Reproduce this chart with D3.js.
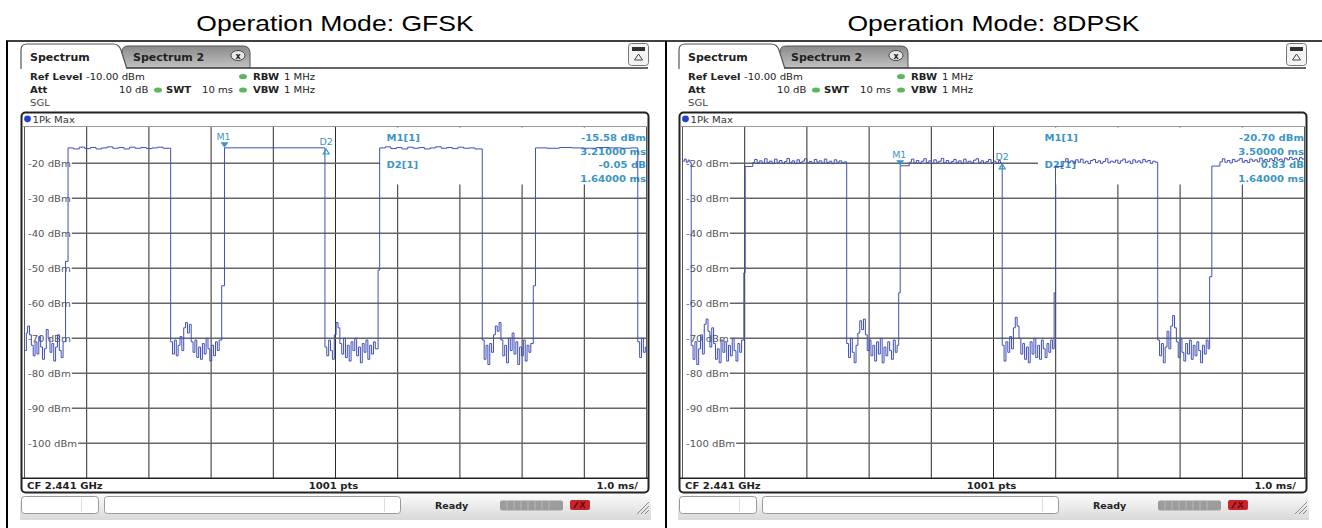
<!DOCTYPE html>
<html>
<head>
<meta charset="utf-8">
<script src="https://cdn.jsdelivr.net/npm/d3@7"></script>
<style>
  body { margin: 0; background: #fff; }
</style>
</head>
<body>
<div id="chart"></div>
<script>
// Titles of the two captures
var titles = ["Operation Mode: GFSK", "Operation Mode: 8DPSK"];

// Level grid labels (dBm) and time axis (ms)
var levelTicks = [-20, -30, -40, -50, -60, -70, -80, -90, -100];
var timeTicks = [1, 2, 3, 4, 5, 6, 7, 8, 9];

// GFSK trace: [time ms, level dBm]
var gfskTrace = [
  [0.00,-73.5],[0.03,-68.5],[0.05,-66.5],[0.08,-69],[0.11,-72],[0.14,-75],[0.17,-71],[0.20,-74.5],[0.23,-69.5],[0.26,-72.5],[0.29,-76],[0.32,-73],[0.35,-67.5],[0.38,-70],[0.41,-74],[0.44,-71.5],[0.47,-76.5],[0.50,-72.5],[0.53,-69],[0.56,-73.5],[0.59,-75.5],[0.62,-71],[0.66,-48],
  [0.70,-15.6],[0.79,-15.9],[0.88,-15.4],[0.97,-15.8],[1.06,-15.5],[1.15,-15.9],[1.24,-15.6],[1.33,-15.3],[1.42,-15.7],[1.51,-15.5],[1.60,-15.9],[1.69,-15.4],[1.78,-15.7],[1.87,-15.5],[1.96,-15.8],[2.05,-15.6],[2.14,-15.4],[2.23,-15.7],
  [2.35,-71],[2.38,-74.5],[2.41,-70.5],[2.44,-75],[2.47,-72],[2.50,-69.5],[2.53,-73.5],[2.56,-67],[2.59,-65.5],[2.62,-68.5],[2.65,-66],[2.68,-71],[2.71,-74],[2.74,-70.5],[2.77,-75.5],[2.80,-72.5],[2.83,-76],[2.86,-71.5],[2.89,-74.5],[2.92,-70],[2.95,-73],[2.98,-76.5],[3.01,-72],[3.04,-75],[3.07,-71],[3.10,-73.5],[3.13,-70.5],[3.17,-55],
  [3.215,-15.58],
  [4.83,-72.5],[4.86,-75],[4.89,-70.5],[4.92,-73.5],[4.95,-76],[4.98,-69],[5.01,-65.5],[5.04,-67],[5.07,-71.5],[5.10,-74.5],[5.13,-70],[5.16,-75.5],[5.19,-72],[5.22,-76.5],[5.25,-71],[5.28,-73.5],[5.31,-70],[5.34,-75],[5.37,-72.5],[5.40,-77],[5.43,-71.5],[5.46,-74],[5.49,-70.5],[5.52,-76],[5.55,-72],[5.58,-74.5],[5.61,-71],[5.64,-73],[5.685,-50.5],
  [5.71,-15.6],[5.80,-15.3],[5.89,-15.8],[5.98,-15.5],[6.07,-15.9],[6.16,-15.4],[6.25,-15.7],[6.34,-15.5],[6.43,-15.9],[6.52,-15.6],[6.61,-15.3],[6.70,-15.7],[6.79,-15.5],[6.88,-15.8],[6.97,-15.4],[7.06,-15.7],[7.15,-15.6],[7.24,-15.9],
  [7.36,-70.5],[7.39,-76],[7.42,-72],[7.45,-77.5],[7.48,-71.5],[7.51,-74],[7.54,-69],[7.57,-66.5],[7.60,-68],[7.63,-65.5],[7.66,-70.5],[7.69,-75],[7.72,-72],[7.75,-77],[7.78,-70],[7.81,-73.5],[7.84,-68.5],[7.87,-74.5],[7.90,-71],[7.93,-77.5],[7.96,-72.5],[7.99,-75],[8.02,-70.5],[8.05,-76.5],[8.08,-72],[8.11,-74],[8.14,-71.5],[8.18,-55],
  [8.215,-15.6],[8.40,-15.7],[8.60,-15.5],[8.80,-15.6],[9.00,-15.7],[9.20,-15.5],[9.40,-15.6],[9.60,-15.7],[9.75,-15.6],
  [9.86,-71],[9.89,-75.5],[9.92,-70],[9.95,-74],[9.98,-72.5],[10.0,-72.5]
];

// 8DPSK trace: [time ms, level dBm]
var dpskTrace = [
  [0.00,-19.4],[0.03,-18.8],[0.06,-19.7],[0.09,-19.1],[0.12,-19.8],
  [0.14,-72],[0.17,-76],[0.20,-71],[0.23,-77.5],[0.26,-73],[0.29,-69],[0.32,-74.5],[0.35,-66],[0.38,-64.5],[0.41,-68],[0.44,-72.5],[0.47,-67],[0.50,-71.5],[0.53,-76],[0.56,-73],[0.59,-77],[0.62,-70.5],[0.65,-74],[0.68,-71],[0.71,-76.5],[0.74,-72],[0.77,-75],[0.80,-70],[0.83,-73.5],[0.86,-76.5],[0.89,-71.5],[0.92,-74],[0.95,-70.5],[0.986,-51.3],
  [1.007,-20.9],[1.13,-19.8],[1.16,-18.9],[1.20,-19.9],[1.24,-19.3],[1.28,-20],[1.32,-18.7],[1.36,-19.8],[1.40,-19.4],[1.44,-20.1],[1.48,-18.8],[1.52,-19.7],[1.56,-19.2],[1.60,-20],[1.64,-19.5],[1.68,-18.6],[1.72,-19.9],[1.76,-19.3],[1.80,-20.1],[1.84,-19],[1.88,-19.8],[1.92,-19.4],[1.96,-18.7],[2.00,-19.9],[2.04,-19.5],[2.08,-20],[2.12,-18.9],[2.16,-19.7],[2.20,-19.3],[2.24,-20],[2.28,-18.8],[2.32,-19.8],[2.36,-19.4],[2.40,-20.1],[2.44,-19],[2.48,-19.7],[2.52,-19.3],[2.56,-19.9],[2.60,-19.6],
  [2.64,-71.5],[2.67,-75.5],[2.70,-70],[2.73,-74],[2.76,-77],[2.79,-72],[2.82,-68.5],[2.85,-65],[2.88,-67.5],[2.91,-64.5],[2.94,-69],[2.97,-73.5],[3.00,-70.5],[3.03,-75],[3.06,-72],[3.09,-76.5],[3.12,-71],[3.15,-74.5],[3.18,-70],[3.21,-77],[3.24,-72.5],[3.27,-75],[3.30,-71],[3.33,-73.5],[3.36,-76],[3.39,-70.5],[3.42,-74],[3.45,-72],[3.476,-57],
  [3.50,-20.7],[3.646,-19.7],[3.68,-18.8],[3.72,-19.9],[3.76,-19.2],[3.80,-20],[3.84,-19.4],[3.88,-18.7],[3.92,-19.8],[3.96,-19.3],[4.00,-20.1],[4.04,-19],[4.08,-19.7],[4.12,-19.4],[4.16,-18.6],[4.20,-19.9],[4.24,-19.2],[4.28,-20],[4.32,-19.5],[4.36,-18.9],[4.40,-19.8],[4.44,-19.3],[4.48,-20.1],[4.52,-18.8],[4.56,-19.7],[4.60,-19.4],[4.64,-19.9],[4.68,-19.1],[4.72,-18.7],[4.76,-19.8],[4.80,-19.3],[4.84,-20],[4.88,-19.5],[4.92,-18.9],[4.96,-19.8],[5.00,-19.4],[5.04,-20],[5.08,-19.2],[5.11,-19.9],
  [5.14,-72],[5.17,-76.5],[5.20,-71],[5.23,-74],[5.26,-69.5],[5.29,-73],[5.32,-67],[5.35,-64],[5.38,-66.5],[5.41,-70],[5.44,-74.5],[5.47,-71.5],[5.50,-76],[5.53,-72.5],[5.56,-77],[5.59,-71],[5.62,-74.5],[5.65,-70],[5.68,-75.5],[5.71,-72],[5.74,-76],[5.77,-70.5],[5.80,-73],[5.83,-75.5],[5.86,-71.5],[5.89,-74],[5.92,-70.5],[5.95,-73],[5.975,-57],
  [5.997,-20.9],[6.12,-19.6],[6.16,-18.7],[6.20,-19.8],[6.24,-19.3],[6.28,-20],[6.32,-19],[6.36,-19.7],[6.40,-18.8],[6.44,-19.9],[6.48,-19.4],[6.52,-20.1],[6.56,-19.2],[6.60,-18.9],[6.64,-19.8],[6.68,-19.3],[6.72,-20],[6.76,-19.5],[6.80,-18.7],[6.84,-19.9],[6.88,-19.4],[6.92,-19.7],[6.96,-19.1],[7.00,-20],[7.04,-19.3],[7.08,-18.8],[7.12,-19.8],[7.16,-19.4],[7.20,-20.1],[7.24,-19],[7.28,-19.7],[7.32,-19.3],[7.36,-19.9],[7.40,-18.9],[7.44,-19.6],[7.48,-19.2],[7.52,-20],[7.56,-19.4],[7.60,-19.7],
  [7.64,-70.5],[7.67,-75],[7.70,-71.5],[7.73,-77],[7.76,-72.5],[7.79,-68],[7.82,-73],[7.85,-66.5],[7.88,-63.5],[7.91,-67],[7.94,-71],[7.97,-75.5],[8.00,-70],[8.03,-74],[8.06,-76.5],[8.09,-71.5],[8.12,-74.5],[8.15,-70.5],[8.18,-76],[8.21,-72],[8.24,-75],[8.27,-71],[8.30,-73.5],[8.33,-77],[8.36,-72],[8.39,-74.5],[8.42,-70.5],[8.45,-73],[8.475,-52.4],
  [8.51,-20.8],[8.64,-19.6],[8.68,-18.7],[8.72,-19.7],[8.76,-19.2],[8.80,-19.9],[8.84,-18.9],[8.88,-19.5],[8.92,-19.1],[8.96,-18.6],[9.00,-19.7],[9.04,-19.2],[9.08,-19.8],[9.12,-18.8],[9.16,-19.4],[9.20,-19],[9.24,-19.6],[9.28,-18.5],[9.32,-19.3],[9.36,-18.9],[9.40,-19.5],[9.44,-18.7],[9.48,-19.2],[9.52,-18.4],[9.56,-19.1],[9.60,-18.8],[9.64,-19.4],[9.68,-18.5],[9.72,-19],[9.76,-18.3],[9.80,-18.9],[9.84,-18.6],[9.88,-19.1],[9.92,-18.4],[9.96,-18.8],[10.0,-18.6]
];

// Markers: M1 position, D2 position (ms, dBm)
var gfskMarkers = [{ name: "M1", t: 3.215, level: -15.58, delta: false }, { name: "D2", t: 4.85, level: -15.63, delta: true }];
var dpskMarkers = [{ name: "M1", t: 3.50, level: -20.70, delta: false }, { name: "D2", t: 5.14, level: -19.87, delta: true }];

// Marker readouts
var gfskReadout = ["-15.58 dBm", "3.21000 ms", "-0.05 dB", "1.64000 ms"];
var dpskReadout = ["-20.70 dBm", "3.50000 ms", "0.83 dB", "1.64000 ms"];

var width = 1322, height = 528;
var svg = d3.select("#chart").append("svg")
  .attr("width", width)
  .attr("height", height)
  .style("font-family", "'DejaVu Sans', Verdana, sans-serif");

var defs = svg.append("defs");
var tabGrad = defs.append("linearGradient").attr("id", "tabGrad").attr("x1", 0).attr("y1", 0).attr("x2", 0).attr("y2", 1);
tabGrad.append("stop").attr("offset", "0%").attr("stop-color", "#8a8a8a");
tabGrad.append("stop").attr("offset", "100%").attr("stop-color", "#c2c2c2");
var barGrad = defs.append("linearGradient").attr("id", "barGrad").attr("x1", 0).attr("y1", 0).attr("x2", 0).attr("y2", 1);
barGrad.append("stop").attr("offset", "0%").attr("stop-color", "#fbfbfb");
barGrad.append("stop").attr("offset", "100%").attr("stop-color", "#d9d9d9");

// small text helper, the capture is a bit stretched sideways
function txt(g, x, y, s, o) {
  o = o || {};
  return g.append("text")
    .attr("transform", "translate(" + x + "," + y + ") scale(" + (o.sx || 1.12) + ",1)")
    .attr("text-anchor", o.anchor || "start")
    .attr("font-size", o.size || 9)
    .attr("font-weight", o.bold ? "bold" : "normal")
    .attr("fill", o.color || "#222")
    .text(s);
}

// table lines round the two captures
svg.append("line").attr("x1", 6).attr("y1", 41).attr("x2", width).attr("y2", 41).attr("stroke", "#000").attr("stroke-width", 1.5);
svg.append("line").attr("x1", 7).attr("y1", 41).attr("x2", 7).attr("y2", height).attr("stroke", "#000").attr("stroke-width", 2);
svg.append("line").attr("x1", 666).attr("y1", 41).attr("x2", 666).attr("y2", height).attr("stroke", "#000").attr("stroke-width", 2);

// titles
[335, 993.5].forEach(function(cx, i) {
  svg.append("text")
    .attr("transform", "translate(" + cx + ",31) scale(1.18,1)")
    .attr("text-anchor", "middle")
    .attr("font-family", "'Liberation Sans', Arial, sans-serif")
    .attr("font-size", 22.5)
    .attr("fill", "#000")
    .text(titles[i]);
});

function drawPanel(ox, trace, markers, readout, id) {
  var g = svg.append("g").attr("transform", "translate(" + ox + ",0)");

  var x = d3.scaleLinear().domain([0, 10]).range([24.5, 646.5]);
  var y = d3.scaleLinear().domain([-110, -10]).range([478.3, 128.3]);

  // tabs
  g.append("path")
    .attr("d", "M122,68 L122,52 Q122,46 128,46 L243,46 Q250,46 250,53 L250,68")
    .attr("fill", "url(#tabGrad)").attr("stroke", "#555").attr("stroke-width", 1);
  g.append("line").attr("x1", 118).attr("y1", 68).attr("x2", 648).attr("y2", 68).attr("stroke", "#333").attr("stroke-width", 1.5);
  g.append("path")
    .attr("d", "M21,69 L21,50 Q21,44 27,44 L113,44 Q119,44 121,50 L127,69")
    .attr("fill", "#fff").attr("stroke", "#555").attr("stroke-width", 1.2);
  txt(g, 30, 61, "Spectrum", { size: 11, bold: true, sx: 1.0, color: "#222" });
  txt(g, 133, 61, "Spectrum 2", { size: 11, bold: true, sx: 1.0, color: "#222" });
  g.append("ellipse").attr("cx", 238).attr("cy", 55.5).attr("rx", 7).attr("ry", 5)
    .attr("fill", "#e8e8e8").attr("stroke", "#444").attr("stroke-width", 1);
  txt(g, 238, 58.5, "x", { size: 8, bold: true, sx: 1.0, anchor: "middle", color: "#222" });

  // top right button
  g.append("rect").attr("x", 628.5).attr("y", 43.5).attr("width", 20).attr("height", 22).attr("rx", 3)
    .attr("fill", "#f4f4f4").attr("stroke", "#777");
  g.append("rect").attr("x", 632).attr("y", 47).attr("width", 13).attr("height", 4).attr("fill", "#333");
  g.append("path").attr("d", "M638.5,54 L642.5,60 L634.5,60 Z").attr("fill", "none").attr("stroke", "#444");

  // header settings
  txt(g, 30, 79.5, "Ref Level", { bold: true });
  txt(g, 86, 79.5, "-10.00 dBm");
  txt(g, 30, 93, "Att", { bold: true });
  txt(g, 119, 93, "10 dB");
  txt(g, 166, 93, "SWT", { bold: true });
  txt(g, 202, 93, "10 ms");
  txt(g, 253, 79.5, "RBW", { bold: true });
  txt(g, 284, 79.5, "1 MHz");
  txt(g, 253, 93, "VBW", { bold: true });
  txt(g, 284, 93, "1 MHz");
  txt(g, 30, 106, "SGL", { color: "#444" });
  [[243, 76.5], [158, 90], [243, 90]].forEach(function(p) {
    g.append("ellipse").attr("cx", p[0]).attr("cy", p[1]).attr("rx", 4).attr("ry", 2.6).attr("fill", "#5cb85c");
  });

  // diagram frame
  g.append("rect").attr("x", 21.5).attr("y", 112.5).attr("width", 627).attr("height", 380).attr("rx", 4)
    .attr("fill", "#fff").attr("stroke", "#222").attr("stroke-width", 2);
  g.append("line").attr("x1", 22).attr("y1", 126.5).attr("x2", 648).attr("y2", 126.5).attr("stroke", "#999");
  g.append("circle").attr("cx", 27.5).attr("cy", 118.8).attr("r", 3.4).attr("fill", "#2244cc");
  txt(g, 32.5, 122.5, "1Pk Max", { color: "#333" });

  // grid
  g.selectAll(".vg").data(timeTicks).enter().append("line")
    .attr("x1", function(d) { return x(d); }).attr("x2", function(d) { return x(d); })
    .attr("y1", 127).attr("y2", 478.3)
    .attr("stroke", "#2a2a2a").attr("stroke-width", 1);
  g.selectAll(".hg").data(levelTicks).enter().append("line")
    .attr("x1", x(0)).attr("x2", x(10))
    .attr("y1", function(d) { return y(d); }).attr("y2", function(d) { return y(d); })
    .attr("stroke", "#666").attr("stroke-width", 1.5);
  g.append("line").attr("x1", x(0)).attr("x2", x(0)).attr("y1", 127).attr("y2", 478.3).attr("stroke", "#555");
  g.append("line").attr("x1", x(10)).attr("x2", x(10)).attr("y1", 127).attr("y2", 478.3).attr("stroke", "#555");
  g.append("line").attr("x1", 22).attr("x2", 648).attr("y1", 478.3).attr("y2", 478.3).attr("stroke", "#222").attr("stroke-width", 1.5);

  // level labels with white backing
  levelTicks.forEach(function(d) {
    var bg = g.append("rect").attr("fill", "#fff");
    var t = txt(g, 28, y(d) + 3.3, d + " dBm", { color: "#555" });
    var w = t.node().getComputedTextLength() * 1.12;
    bg.attr("x", 25).attr("y", y(d) - 5).attr("width", w + 4).attr("height", 10);
  });

  // readout area covers the grid
  g.append("rect").attr("x", 380).attr("y", 127.5).attr("width", 266).attr("height", 57).attr("fill", "#fff");
  var mc = "#3b95c4";
  txt(g, 386.5, 141, "M1[1]", { bold: true, color: mc });
  txt(g, 386.5, 168, "D2[1]", { bold: true, color: mc });
  [141, 154.5, 168, 182].forEach(function(yy, i) {
    txt(g, 646, yy, readout[i], { bold: true, color: mc, anchor: "end" });
  });

  // trace
  g.append("clipPath").attr("id", id).append("rect")
    .attr("x", x(0)).attr("y", 127).attr("width", x(10) - x(0)).attr("height", 351.3);
  var line = d3.line()
    .x(function(d) { return x(d[0]); })
    .y(function(d) { return y(d[1]); })
    .curve(d3.curveStepAfter);
  g.append("path")
    .datum(trace)
    .attr("clip-path", "url(#" + id + ")")
    .attr("d", line)
    .attr("fill", "none")
    .attr("stroke", "#3f4fb5")
    .attr("stroke-width", 1);

  // markers
  markers.forEach(function(m) {
    var mx = x(m.t), my = y(m.level);
    if (m.delta) {
      g.append("path").attr("d", "M" + mx + "," + (my + 1) + " L" + (mx + 3) + "," + (my + 6) + " L" + (mx - 3) + "," + (my + 6) + " Z")
        .attr("fill", "none").attr("stroke", mc).attr("stroke-width", 1.2);
      txt(g, mx, my - 3, m.name, { color: mc, anchor: "middle", sx: 1.05 });
    } else {
      g.append("path").attr("d", "M" + (mx - 4) + "," + (my - 5.5) + " L" + (mx + 4) + "," + (my - 5.5) + " L" + mx + "," + my + " Z")
        .attr("fill", mc);
      txt(g, mx - 1, my - 8, m.name, { color: mc, anchor: "middle", sx: 1.05 });
    }
  });

  // bottom info line
  txt(g, 27, 488.5, "CF 2.441 GHz", { bold: true });
  txt(g, 333.5, 488.5, "1001 pts", { bold: true, anchor: "middle" });
  txt(g, 638, 488.5, "1.0 ms/", { bold: true, anchor: "end" });

  // status bar
  g.append("rect").attr("x", 20).attr("y", 494).attr("width", 631).attr("height", 26).attr("fill", "url(#barGrad)");
  g.append("rect").attr("x", 21.5).attr("y", 496.5).attr("width", 77).attr("height", 17).attr("rx", 3)
    .attr("fill", "#fff").attr("stroke", "#999");
  g.append("line").attr("x1", 81.5).attr("x2", 81.5).attr("y1", 498).attr("y2", 512).attr("stroke", "#ddd");
  g.append("rect").attr("x", 104.5).attr("y", 496.5).attr("width", 296).attr("height", 17).attr("rx", 3)
    .attr("fill", "#fff").attr("stroke", "#999");
  g.append("line").attr("x1", 384.5).attr("x2", 384.5).attr("y1", 498).attr("y2", 512).attr("stroke", "#ddd");
  txt(g, 435, 508.5, "Ready", { bold: true, size: 8.5 });
  g.append("rect").attr("x", 500).attr("y", 500.5).attr("width", 63).attr("height", 10).attr("rx", 2).attr("fill", "#9c9c9c");
  d3.range(7).forEach(function(i) {
    g.append("line").attr("x1", 507 + i * 7).attr("x2", 507 + i * 7).attr("y1", 501).attr("y2", 510).attr("stroke", "#b8b8b8");
  });
  g.append("rect").attr("x", 570).attr("y", 500).attr("width", 20).attr("height", 10).attr("rx", 2).attr("fill", "#c9242a");
  g.append("path").attr("d", "M574,508 L578,502 M580,508 L585,502 M581,502 L585,508").attr("stroke", "#6a0e12").attr("stroke-width", 1.5);
  // resize grip
  [0, 4, 8].forEach(function(k) {
    g.append("line").attr("x1", 649).attr("y1", 502 + k).attr("x2", 637 + k).attr("y2", 514)
      .attr("stroke", "#888").attr("stroke-width", 1);
  });
}

drawPanel(0, gfskTrace, gfskMarkers, gfskReadout, "clipA");
drawPanel(658, dpskTrace, dpskMarkers, dpskReadout, "clipB");
</script>
</body>
</html>
